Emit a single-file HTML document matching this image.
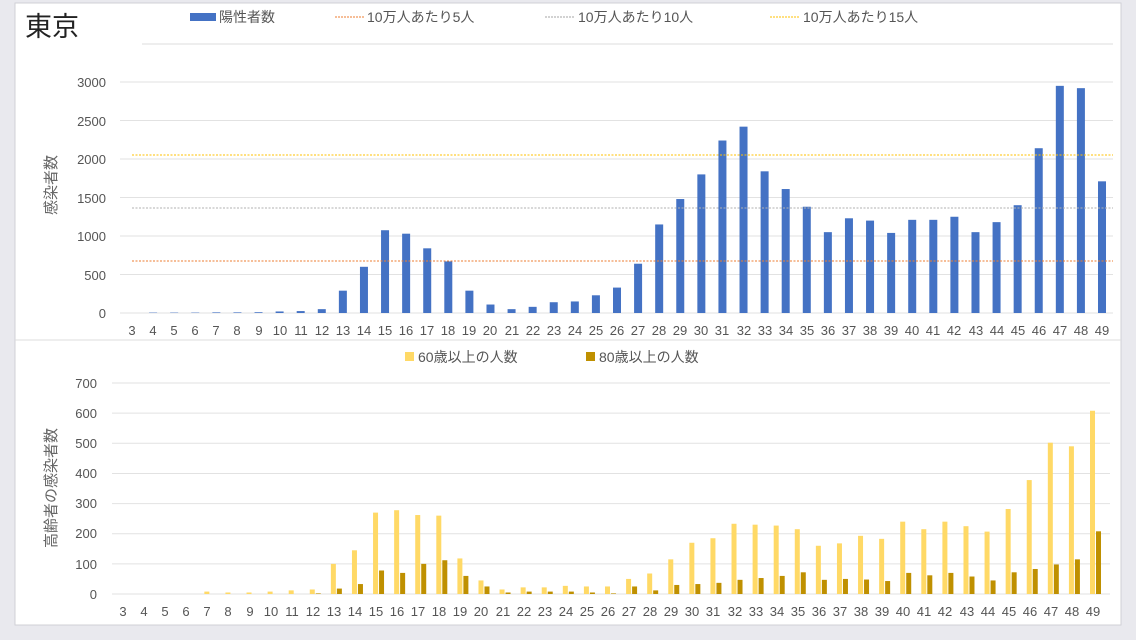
<!DOCTYPE html>
<html><head><meta charset="utf-8"><style>
html,body{margin:0;padding:0;background:#e9e9ee;width:1136px;height:640px;overflow:hidden}
svg{display:block;font-family:"Liberation Sans","Noto Sans CJK JP",sans-serif}
</style></head><body>
<svg id="s" width="1136" height="640" viewBox="0 0 1136 640">
<rect x="15" y="3" width="1106" height="622" fill="#fff" stroke="#d0d0d6"/>
<text x="25" y="36" font-size="27" fill="#222">東京</text>
<line x1="142" y1="44" x2="1113" y2="44" stroke="#ddd"/>
<rect x="190" y="13" width="26" height="8" fill="#4472c4"/>
<text x="219" y="22" font-size="14" fill="#555">陽性者数</text>
<line x1="335" y1="17" x2="365" y2="17" stroke="#ed7d31" stroke-dasharray="2,1"/>
<text x="367" y="22" font-size="14" fill="#555">10万人あたり5人</text>
<line x1="545" y1="17" x2="575" y2="17" stroke="#a5a5a5" stroke-dasharray="2,1"/>
<text x="578" y="22" font-size="14" fill="#555">10万人あたり10人</text>
<line x1="770" y1="17" x2="800" y2="17" stroke="#ffc000" stroke-dasharray="2,1"/>
<text x="803" y="22" font-size="14" fill="#555">10万人あたり15人</text>
<line x1="15" y1="340" x2="1121" y2="340" stroke="#ddd"/>
<rect x="405" y="352" width="9" height="9" fill="#ffd966"/>
<text x="418" y="362" font-size="14" fill="#555">60歳以上の人数</text>
<rect x="586" y="352" width="9" height="9" fill="#bf9000"/>
<text x="599" y="362" font-size="14" fill="#555">80歳以上の人数</text>
<text transform="translate(56,185) rotate(-90)" font-size="15" fill="#666" text-anchor="middle">感染者数</text>
<text transform="translate(56,488) rotate(-90)" font-size="15" fill="#666" text-anchor="middle">高齢者の感染者数</text>
<g font-size="13" fill="#555" text-anchor="end">
<text x="106" y="87">3000</text><text x="106" y="126">2500</text><text x="106" y="164">2000</text><text x="106" y="203">1500</text><text x="106" y="241">1000</text><text x="106" y="280">500</text><text x="106" y="318">0</text>
<text x="97" y="388">700</text><text x="97" y="418">600</text><text x="97" y="448">500</text><text x="97" y="478">400</text><text x="97" y="508">300</text><text x="97" y="538">200</text><text x="97" y="569">100</text><text x="97" y="599">0</text>
</g>
<g id="g"></g>
<text y="335" font-size="13" fill="#555" text-anchor="middle"><tspan x="132">3</tspan><tspan x="153">4</tspan><tspan x="174">5</tspan><tspan x="195">6</tspan><tspan x="216">7</tspan><tspan x="237">8</tspan><tspan x="259">9</tspan><tspan x="280">10</tspan><tspan x="301">11</tspan><tspan x="322">12</tspan><tspan x="343">13</tspan><tspan x="364">14</tspan><tspan x="385">15</tspan><tspan x="406">16</tspan><tspan x="427">17</tspan><tspan x="448">18</tspan><tspan x="469">19</tspan><tspan x="490">20</tspan><tspan x="512">21</tspan><tspan x="533">22</tspan><tspan x="554">23</tspan><tspan x="575">24</tspan><tspan x="596">25</tspan><tspan x="617">26</tspan><tspan x="638">27</tspan><tspan x="659">28</tspan><tspan x="680">29</tspan><tspan x="701">30</tspan><tspan x="722">31</tspan><tspan x="744">32</tspan><tspan x="765">33</tspan><tspan x="786">34</tspan><tspan x="807">35</tspan><tspan x="828">36</tspan><tspan x="849">37</tspan><tspan x="870">38</tspan><tspan x="891">39</tspan><tspan x="912">40</tspan><tspan x="933">41</tspan><tspan x="954">42</tspan><tspan x="976">43</tspan><tspan x="997">44</tspan><tspan x="1018">45</tspan><tspan x="1039">46</tspan><tspan x="1060">47</tspan><tspan x="1081">48</tspan><tspan x="1102">49</tspan></text>
<text y="616" font-size="13" fill="#555" text-anchor="middle"><tspan x="123">3</tspan><tspan x="144">4</tspan><tspan x="165">5</tspan><tspan x="186">6</tspan><tspan x="207">7</tspan><tspan x="228">8</tspan><tspan x="250">9</tspan><tspan x="271">10</tspan><tspan x="292">11</tspan><tspan x="313">12</tspan><tspan x="334">13</tspan><tspan x="355">14</tspan><tspan x="376">15</tspan><tspan x="397">16</tspan><tspan x="418">17</tspan><tspan x="439">18</tspan><tspan x="460">19</tspan><tspan x="481">20</tspan><tspan x="503">21</tspan><tspan x="524">22</tspan><tspan x="545">23</tspan><tspan x="566">24</tspan><tspan x="587">25</tspan><tspan x="608">26</tspan><tspan x="629">27</tspan><tspan x="650">28</tspan><tspan x="671">29</tspan><tspan x="692">30</tspan><tspan x="713">31</tspan><tspan x="735">32</tspan><tspan x="756">33</tspan><tspan x="777">34</tspan><tspan x="798">35</tspan><tspan x="819">36</tspan><tspan x="840">37</tspan><tspan x="861">38</tspan><tspan x="882">39</tspan><tspan x="903">40</tspan><tspan x="924">41</tspan><tspan x="945">42</tspan><tspan x="967">43</tspan><tspan x="988">44</tspan><tspan x="1009">45</tspan><tspan x="1030">46</tspan><tspan x="1051">47</tspan><tspan x="1072">48</tspan><tspan x="1093">49</tspan></text>
</svg>
<script>
(function(){
var g=document.getElementById('g'),NS='http://www.w3.org/2000/svg';
function el(t,a){var e=document.createElementNS(NS,t);for(var k in a)e.setAttribute(k,a[k]);g.appendChild(e);}
for(var i=0;i<=6;i++){var y=313-i*500*0.077;el('line',{x1:120,x2:1113,y1:y,y2:y,stroke:'#e2e2e2'});}
for(var i=0;i<=7;i++){var y=594-i*100*0.3014;el('line',{x1:112,x2:1110,y1:y,y2:y,stroke:'#e2e2e2'});}
var topv=[0,5,5,5,8,8,10,20,25,50,290,600,1075,1030,840,670,290,110,50,80,140,150,230,330,640,1150,1480,1800,2240,2420,1840,1610,1380,1050,1230,1200,1040,1210,1210,1250,1050,1180,1400,2140,2950,2920,1710];
var a60=[0,0,0,0,8,5,5,8,12,15,100,145,270,278,262,260,118,45,15,22,22,27,25,25,50,68,115,170,185,233,230,227,215,160,168,193,183,240,215,240,225,207,282,378,502,490,608];
var a80=[0,0,0,0,0,0,0,0,0,2,18,33,78,70,100,112,60,25,5,8,8,8,5,2,25,12,30,33,37,47,53,60,72,47,50,48,43,70,62,70,58,45,72,83,98,115,208];
for(var i=0;i<47;i++){
 var x=132+i*21.087,h=topv[i]*0.077;
 el('rect',{x:x-4,y:313-h,width:8,height:h,fill:'#4472c4'});
 var xb=123+i*21.087;
 h=a60[i]*0.3014;el('rect',{x:xb-3,y:594-h,width:5,height:h,fill:'#ffd966'});
 h=a80[i]*0.3014;el('rect',{x:xb+3,y:594-h,width:5,height:h,fill:'#bf9000'});
}
[[261,'#ed7d31'],[208,'#b0b0b0'],[155,'#ffc000']].forEach(function(r){el('line',{x1:132,x2:1113,y1:r[0],y2:r[0],stroke:r[1],'stroke-dasharray':'2,1.5'});});
})();
</script>
</body></html>
